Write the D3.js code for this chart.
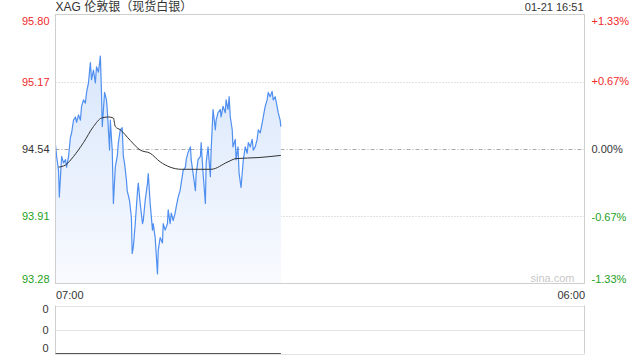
<!DOCTYPE html>
<html><head><meta charset="utf-8">
<script src="https://cdn.jsdelivr.net/npm/d3@7/dist/d3.min.js"></script>
<style>
html,body{margin:0;padding:0;background:#fff;}
svg{display:block;font-family:"Liberation Sans",Arial,sans-serif;}
</style></head>
<body><svg id="c" width="640" height="360"></svg>
<script>
const title = "XAG 伦敦银（现货白银）";
const stamp = "01-21 16:51";
const prevClose = 94.54;
const priceTicks = [95.80, 95.17, 94.54, 93.91, 93.28];
const pctTicks = ["+1.33%", "+0.67%", "0.00%", "-0.67%", "-1.33%"];
const timeTicks = ["07:00", "06:00"];
const timeTickMinutes = [0, 1380];
const volTicks = ["0", "0", "0"];
// minutes after 07:00
const minutes = [0,3,8,10,13,16,21,26,29,34,39,42,47,52,55,60,65,68,73,78,81,86,91,94,99,104,107,112,117,120,122,128,133,135,141,143,148,151,156,161,164,169,174,177,180,185,187,193,198,200,203,208,214,216,221,227,229,234,240,242,247,253,255,260,266,268,273,279,281,286,292,294,299,302,307,312,315,320,325,328,333,339,341,346,352,354,359,365,367,372,378,380,385,391,393,398,404,406,411,417,419,424,430,432,437,443,445,450,453,456,461,463,469,471,476,479,484,487,490,495,500,503,508,513,516,521,526,529,534,539,542,547,552,555,560,565,568,573,578,581,586,588];
const prices = [94.58,94.47,94.34,94.09,94.28,94.47,94.41,94.44,94.37,94.47,94.65,94.69,94.81,94.84,94.79,94.86,94.81,94.94,95.00,94.97,95.07,95.16,95.35,95.19,95.28,95.16,95.31,95.26,95.41,95.07,94.75,95.07,95.00,94.91,94.53,94.81,94.53,94.03,94.37,94.47,94.60,94.72,94.74,94.47,94.41,94.25,94.15,94.06,93.90,93.56,93.62,93.84,94.15,94.22,94.03,93.84,93.87,94.06,94.22,94.31,94.03,93.78,93.84,93.71,93.37,93.59,93.71,93.66,93.84,93.78,93.84,93.97,93.84,93.94,93.87,93.94,94.00,94.09,94.15,94.22,94.34,94.37,94.44,94.51,94.56,94.44,94.31,94.15,94.31,94.44,94.47,94.60,94.31,94.03,94.41,94.56,94.28,94.53,94.91,94.72,94.81,94.88,94.91,94.84,94.94,94.88,95.00,94.91,95.03,94.84,94.72,94.56,94.63,94.44,94.56,94.31,94.18,94.31,94.44,94.56,94.50,94.60,94.56,94.63,94.53,94.56,94.63,94.72,94.69,94.78,94.84,94.94,95.00,95.07,95.03,95.08,95.00,95.03,94.94,94.88,94.81,94.75];
const avgMinutes = [8,26,47,73,99,120,138,151,156,169,195,221,247,273,299,328,406,450,471,531,588];
const avgPrices = [94.37,94.39,94.47,94.60,94.75,94.83,94.84,94.83,94.75,94.72,94.62,94.53,94.50,94.42,94.37,94.35,94.35,94.42,94.45,94.46,94.48];
const volMinutes = [0, 588];
const volumes = [0, 0];

const RED = "#f0292b", GREEN = "#1d9f1d", DARK = "#333";
const L = 55.5, R = 584.5, T = 14.5, B = 283.5;
const VT = 305.5, VB = 353.5;

const svg = d3.select("#c");
const x = d3.scaleLinear().domain([0, 1380]).range([L, R]);
const y = d3.scaleLinear().domain([93.28, 95.80]).range([B, T]);
const pct = d3.scaleLinear().domain([-1.33, 1.33]).range([B, T]);
const yv = d3.scaleLinear().domain([-1, 1]).range([VB, VT]);

const defs = svg.append("defs");
const g = defs.append("linearGradient").attr("id","fill").attr("gradientUnits","userSpaceOnUse")
  .attr("x1",0).attr("x2",0).attr("y1",T).attr("y2",B);
g.append("stop").attr("offset","0%").attr("stop-color","#d3e3fb");
g.append("stop").attr("offset","100%").attr("stop-color","#f8fafe");

// gridlines
[95.17, 93.91].forEach(v => {
  svg.append("line").attr("x1",L).attr("x2",R).attr("y1",Math.round(y(v))+0.5).attr("y2",Math.round(y(v))+0.5)
    .attr("stroke","#c4c4c4").attr("stroke-dasharray","1,2");
});
svg.append("line").attr("x1",L).attr("x2",R).attr("y1",Math.round(y(prevClose))+0.5).attr("y2",Math.round(y(prevClose))+0.5)
  .attr("stroke","#aaa").attr("stroke-dasharray","4,2,1,2");

const pts = minutes.map((m,i)=>[m, prices[i]]);
svg.append("path").datum(pts)
  .attr("d", d3.area().x(d=>x(d[0])).y0(B).y1(d=>y(d[1])))
  .attr("fill","url(#fill)");
svg.append("path").datum(pts)
  .attr("d", d3.line().x(d=>x(d[0])).y(d=>y(d[1])))
  .attr("fill","none").attr("stroke","#4f8ff0").attr("stroke-width",1.2).attr("stroke-linejoin","round");
svg.append("path").datum(avgMinutes.map((m,i)=>[m, avgPrices[i]]))
  .attr("d", d3.line().x(d=>x(d[0])).y(d=>y(d[1])).curve(d3.curveMonotoneX))
  .attr("fill","none").attr("stroke","#333").attr("stroke-width",1);

// frame
svg.append("rect").attr("x",L).attr("y",T).attr("width",R-L).attr("height",B-T)
  .attr("fill","none").attr("stroke","#cfcfcf");

// left price axis
const la = svg.append("g").attr("transform",`translate(${L-3},0)`)
  .call(d3.axisLeft(y).tickValues(priceTicks).tickSize(0).tickFormat(d3.format(".2f")));
la.select(".domain").remove();
la.selectAll("text").attr("font-size",11).attr("font-family","Liberation Sans, Arial, sans-serif")
  .attr("fill",d=> d>prevClose+1e-6?RED:(d<prevClose-1e-6?GREEN:DARK))
  .attr("dy",(d,i)=> i===0?"0.95em":(i===priceTicks.length-1?"-0.1em":"0.32em"));

// right pct axis
const pctVals = [1.33,0.67,0,-0.67,-1.33];
const ra = svg.append("g").attr("transform",`translate(${R+4},0)`)
  .call(d3.axisRight(pct).tickValues(pctVals).tickSize(0).tickFormat((d,i)=>pctTicks[i]));
ra.select(".domain").remove();
ra.selectAll("text").attr("font-size",11).attr("font-family","Liberation Sans, Arial, sans-serif")
  .attr("fill",d=> d>0?RED:(d<0?GREEN:DARK))
  .attr("dy",(d,i)=> i===0?"0.95em":(i===pctVals.length-1?"-0.1em":"0.32em"));

// time axis
const ta = svg.append("g").attr("transform",`translate(0,${B+3})`)
  .call(d3.axisBottom(x).tickValues(timeTickMinutes).tickSize(0).tickFormat((d,i)=>timeTicks[i]));
ta.select(".domain").remove();
ta.selectAll("text").attr("font-size",11).attr("font-family","Liberation Sans, Arial, sans-serif").attr("fill",DARK)
  .attr("text-anchor",(d,i)=> i===0?"start":"end").attr("dy","0.9em");

// title and stamp
svg.append("text").attr("x",L).attr("y",11).attr("font-size",12).attr("fill",DARK)
  .attr("font-family","Liberation Sans, Noto Sans CJK SC, sans-serif").text(title);
svg.append("text").attr("x",R-1).attr("y",11).attr("font-size",11).attr("fill",DARK).attr("text-anchor","end").text(stamp);
svg.append("text").attr("x",R-10).attr("y",B-2).attr("font-size",11).attr("fill","#c8c8c8").attr("text-anchor","end").text("sina.com");

// volume panel
[VT, (VT+VB)/2, VB].forEach(yy=>{
  svg.append("line").attr("x1",L).attr("x2",R).attr("y1",Math.round(yy)+0.5).attr("y2",Math.round(yy)+0.5)
    .attr("stroke","#c8c8c8").attr("stroke-dasharray","1,1");
});
svg.append("line").attr("x1",L).attr("x2",L).attr("y1",VT).attr("y2",VB).attr("stroke","#cfcfcf");
svg.append("line").attr("x1",R).attr("x2",R).attr("y1",VT).attr("y2",VB).attr("stroke","#cfcfcf");
svg.append("path").datum(volMinutes.map((m,i)=>[m, volumes[i]]))
  .attr("d", d3.line().x(d=>x(d[0])).y(d=>yv(d[1])))
  .attr("fill","none").attr("stroke","#555").attr("stroke-width",1).attr("transform",`translate(0,${VB-yv(0)})`);
const va = svg.append("g").attr("transform",`translate(${L-4},0)`)
  .call(d3.axisLeft(yv).tickValues([1,0,-1]).tickSize(0).tickFormat((d,i)=>volTicks[i]));
va.select(".domain").remove();
va.selectAll("text").attr("font-size",11).attr("font-family","Liberation Sans, Arial, sans-serif").attr("fill",DARK)
  .attr("dy",(d,i)=> i===0?"0.65em":(i===2?"-0.2em":"0.32em"));
</script></body></html>
